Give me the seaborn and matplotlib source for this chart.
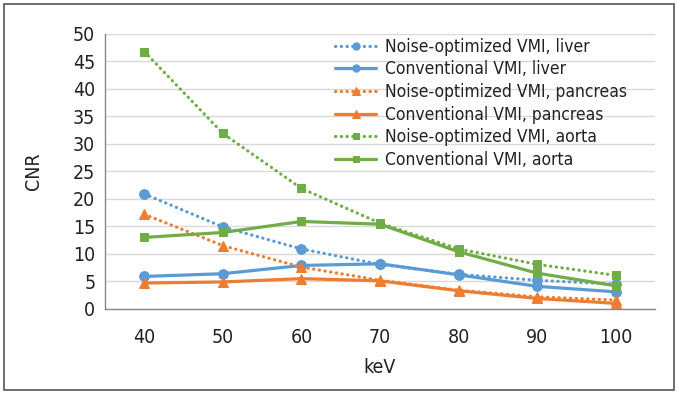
import matplotlib
matplotlib.use("Agg")
import matplotlib.pyplot as plt
import pandas as pd
import seaborn as sns
from matplotlib.patches import Rectangle

# data
kev = [40, 50, 60, 70, 80, 90, 100]
noise_liver = [20.9, 14.9, 10.9, 8.1, 6.3, 5.2, 4.5]
conv_liver = [5.9, 6.4, 7.9, 8.2, 6.2, 4.1, 3.1]
noise_pancreas = [17.2, 11.5, 7.6, 5.2, 3.4, 2.2, 1.6]
conv_pancreas = [4.7, 4.9, 5.5, 5.1, 3.3, 1.9, 1.0]
noise_aorta = [46.8, 31.9, 21.9, 15.6, 10.9, 8.1, 6.1]
conv_aorta = [13.0, 13.9, 15.9, 15.4, 10.4, 6.5, 4.2]

blue, orange, green = "#5B9BD5", "#ED7D31", "#70AD47"

series = [
    ("Noise-optimized VMI, liver", noise_liver, blue, "o", True),
    ("Conventional VMI, liver", conv_liver, blue, "o", False),
    ("Noise-optimized VMI, pancreas", noise_pancreas, orange, "^", True),
    ("Conventional VMI, pancreas", conv_pancreas, orange, "^", False),
    ("Noise-optimized VMI, aorta", noise_aorta, green, "s", True),
    ("Conventional VMI, aorta", conv_aorta, green, "s", False),
]

sns.set_style("white")
plt.rcParams["font.family"] = ["DejaVu Sans"]
plt.rcParams["font.stretch"] = "condensed"

fig = plt.figure(figsize=(6.78, 3.95), dpi=100)
ax = fig.add_axes([0.155, 0.218, 0.811, 0.696])

for name, vals, col, mk, dotted in series:
    df = pd.DataFrame({"keV": kev, "CNR": vals})
    sns.lineplot(data=df, x="keV", y="CNR", ax=ax, color=col, marker=mk,
                 markersize=7 if mk != "s" else 6, markeredgecolor=col,
                 linewidth=2.3, label=name,
                 linestyle=(0, (0.1, 1.7)) if dotted else "-",
                 dash_capstyle="round", solid_capstyle="round")

ax.set_xlim(35, 105)
ax.set_ylim(0, 50)
ax.set_xticks(kev)
ax.set_yticks(range(0, 51, 5))
ax.yaxis.grid(True, color="#d9d9d9", linewidth=1)
ax.set_axisbelow(True)
for s in ["top", "right"]:
    ax.spines[s].set_visible(False)
for s in ["left", "bottom"]:
    ax.spines[s].set_color("#888888")
    ax.spines[s].set_linewidth(1)
ax.tick_params(axis="both", length=0, labelsize=14, colors="#222222", pad=7)
ax.tick_params(axis="x", pad=14)
ax.set_xlabel("keV", fontsize=14, color="#222222", labelpad=8)
ax.set_ylabel("CNR", fontsize=14, color="#222222", labelpad=22)

leg = ax.legend(loc="upper left", bbox_to_anchor=(0.405, 1.012), frameon=False,
                fontsize=12.5, handlelength=2.4, labelspacing=0.27,
                handletextpad=0.5, borderaxespad=0, markerscale=0.75)
for t in leg.get_texts():
    t.set_color("#222222")

# outer frame around the picture
fig.patches.append(Rectangle((0.006, 0.012), 0.988, 0.978, transform=fig.transFigure,
                             fill=False, edgecolor="#555555", linewidth=1.2))

plt.savefig("out.png", dpi=100)
